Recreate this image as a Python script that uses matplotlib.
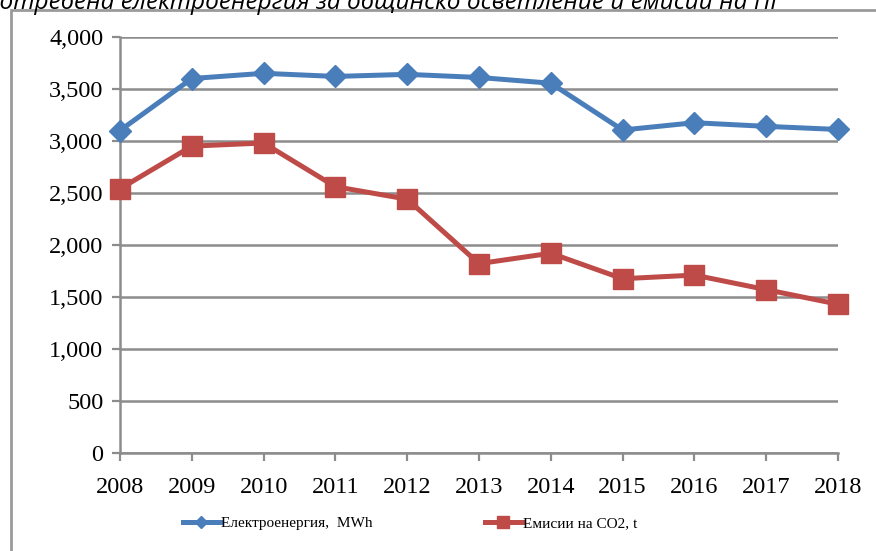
import matplotlib.pyplot as plt
from matplotlib.lines import Line2D
from matplotlib.patches import Rectangle
from matplotlib.ticker import FuncFormatter, MultipleLocator

# Municipal street lighting: electricity use and CO2 emissions
years = [2008, 2009, 2010, 2011, 2012, 2013, 2014, 2015, 2016, 2017, 2018]
electricity_mwh = [3100, 3600, 3650, 3620, 3640, 3610, 3555, 3105, 3175, 3140, 3110]
co2_t = [2540, 2950, 2980, 2560, 2440, 1820, 1920, 1675, 1710, 1570, 1430]

title = 'Потребена електроенергия за общинско осветление и емисии на ПГ'
label_el = 'Електроенергия,  MWh'
label_co2 = 'Емисии на CO2, t'

blue = '#4A7EBB'
red = '#BE4B48'
grey = '#8C8C8C'
serif = ['Liberation Serif', 'DejaVu Serif']

fig = plt.figure(figsize=(8.76, 5.51), dpi=100)
ax = fig.add_axes([0.137, 0.178, 0.8196, 0.755])

# outer chart frame (runs off the right and bottom edges)
fig.patches.append(Rectangle((11 / 876, -0.05), 1.0, 1 - 10 / 551 + 0.05,
                             transform=fig.transFigure, fill=False,
                             edgecolor='#9A9A9A', linewidth=2))

# title line, partly cut off at the top
fig.text(-0.019, 1 - 9 / 551, title, fontsize=17.6, style='italic',
         family=['Open Sans', 'DejaVu Sans'], va='baseline', ha='left')

ax.plot(years, electricity_mwh, color=blue, linewidth=3.6, marker='D',
        markersize=11, label=label_el, clip_on=False, zorder=3)
ax.plot(years, co2_t, color=red, linewidth=3.6, marker='s',
        markersize=15, label=label_co2, clip_on=False, zorder=3)

ax.set_xlim(2008, 2018)
ax.set_ylim(0, 4000)
ax.set_xticks(years)
ax.yaxis.set_major_locator(MultipleLocator(500))
ax.yaxis.set_major_formatter(FuncFormatter(lambda v, p: f'{int(v):,}'))

ax.grid(axis='y', color=grey, linewidth=1.8)
ax.set_axisbelow(True)
for side in ['top', 'right']:
    ax.spines[side].set_visible(False)
for side in ['left', 'bottom']:
    ax.spines[side].set_color(grey)
    ax.spines[side].set_linewidth(1.8)

ax.tick_params(axis='both', direction='out', length=6, width=1.6, color=grey,
               labelsize=17.5)
ax.tick_params(axis='y', pad=6)
ax.tick_params(axis='x', pad=11)
for lbl in ax.get_xticklabels() + ax.get_yticklabels():
    lbl.set_family(serif)

handles = [Line2D([], [], color=blue, linewidth=3.6, marker='D', markersize=6),
           Line2D([], [], color=red, linewidth=3.6, marker='s', markersize=9)]
fig.legend(handles, [label_el, label_co2], loc='center left',
           bbox_to_anchor=(0.209, 1 - 523 / 551), ncol=2, frameon=False,
           prop={'family': serif, 'size': 11}, handlelength=2.4,
           handletextpad=0.05, columnspacing=7.4, borderpad=0, borderaxespad=0)

fig.savefig('out.png', dpi=100)
